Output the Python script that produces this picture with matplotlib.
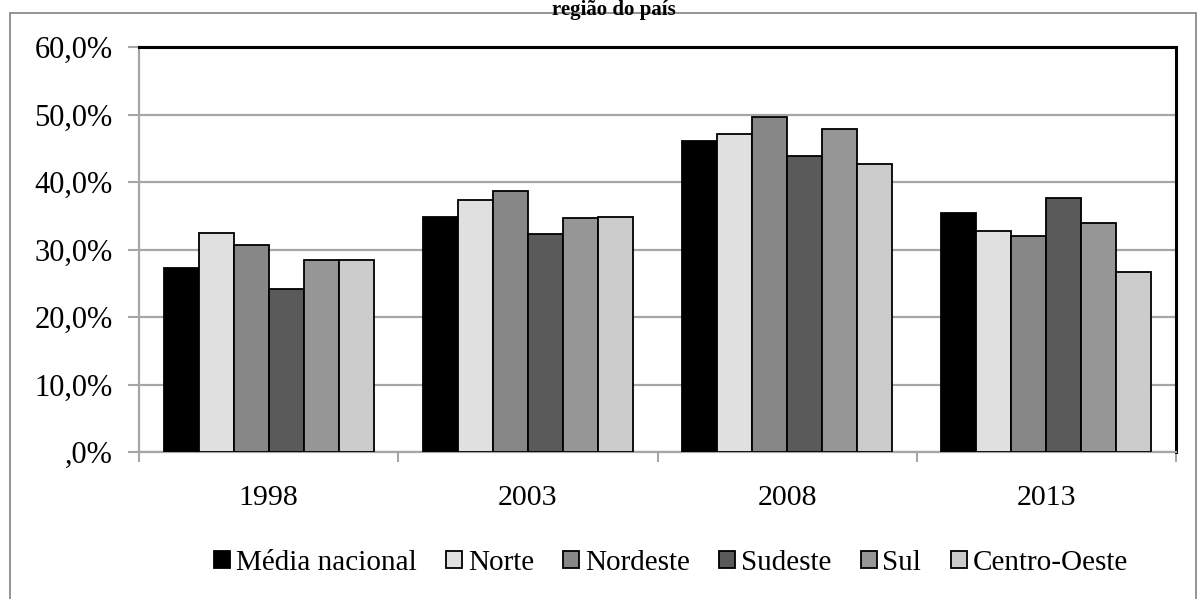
import matplotlib
matplotlib.use("Agg")
import matplotlib.pyplot as plt
from matplotlib.patches import Rectangle
from matplotlib.ticker import FuncFormatter
import numpy as np

plt.rcParams['font.family'] = ['Liberation Serif', 'DejaVu Serif']

years = ["1998", "2003", "2008", "2013"]
series_names = ["Média nacional", "Norte", "Nordeste", "Sudeste", "Sul", "Centro-Oeste"]
media_nacional = [27.3, 34.8, 46.1, 35.4]
norte = [32.4, 37.4, 47.1, 32.7]
nordeste = [30.7, 38.7, 49.7, 32.0]
sudeste = [24.2, 32.3, 43.8, 37.6]
sul = [28.4, 34.7, 47.9, 34.0]
centro_oeste = [28.4, 34.8, 42.6, 26.7]
values = [media_nacional, norte, nordeste, sudeste, sul, centro_oeste]
colors = ["#000000", "#e0e0e0", "#878787", "#5a5a5a", "#969696", "#cccccc"]
y_ticks = [0, 10, 20, 30, 40, 50, 60]

fig = plt.figure(figsize=(12, 5.99), dpi=100)
ax = fig.add_axes([139/1200, 1-452/599, (1176-139)/1200, (452-47)/599])

x = np.arange(len(years))
bw = 0.135
n = len(series_names)
for i, (name, vals, c) in enumerate(zip(series_names, values, colors)):
    ax.bar(x + (i - (n-1)/2) * bw, vals, width=bw, color=c, edgecolor="black",
           linewidth=1.3, label=name, zorder=3)

ax.set_xlim(-0.5, len(years) - 0.5)
ax.set_ylim(0, 60)
ax.set_yticks(y_ticks)
ax.yaxis.set_major_formatter(FuncFormatter(lambda v, p: ",0%" if v == 0 else f"{v:.1f}%".replace(".", ",")))
ax.yaxis.grid(True, color="#a6a6a6", linewidth=1.6, zorder=0)
ax.set_axisbelow(True)

ax.set_xticks(np.arange(-0.5, len(years)), [""] * (len(years) + 1))
ax.set_xticks(x, years, minor=True)
ax.tick_params(axis="x", which="major", length=7, width=1.5, color="#a6a6a6")
ax.tick_params(axis="x", which="minor", length=0, pad=24, labelsize=21.5)
ax.tick_params(axis="y", length=8, width=1.5, color="#a6a6a6", labelsize=22, pad=11)

for s in ["left", "bottom"]:
    ax.spines[s].set_color("#a6a6a6")
    ax.spines[s].set_linewidth(1.6)
for s in ["top", "right"]:
    ax.spines[s].set_color("black")
    ax.spines[s].set_linewidth(2.2)

leg = ax.legend(loc="center", bbox_to_anchor=((671 - 139) / (1176 - 139), -(563 - 452) / (452 - 47)),
                ncol=6, frameon=False,
                fontsize=21, handlelength=0.55, handleheight=0.55, handletextpad=0.2,
                columnspacing=1.0, borderaxespad=0)

# outer chart border
fig.patches.append(Rectangle((10/1200, -0.02), (1196-10)/1200, 1-13/599 + 0.02,
                             transform=fig.transFigure, fill=False,
                             edgecolor="#8c8c8c", linewidth=1.3))

fig.text(614/1200, 1.0, "região do país", ha="center", va="top",
         fontsize=15, fontweight="bold")

fig.savefig("out.png", dpi=100)
